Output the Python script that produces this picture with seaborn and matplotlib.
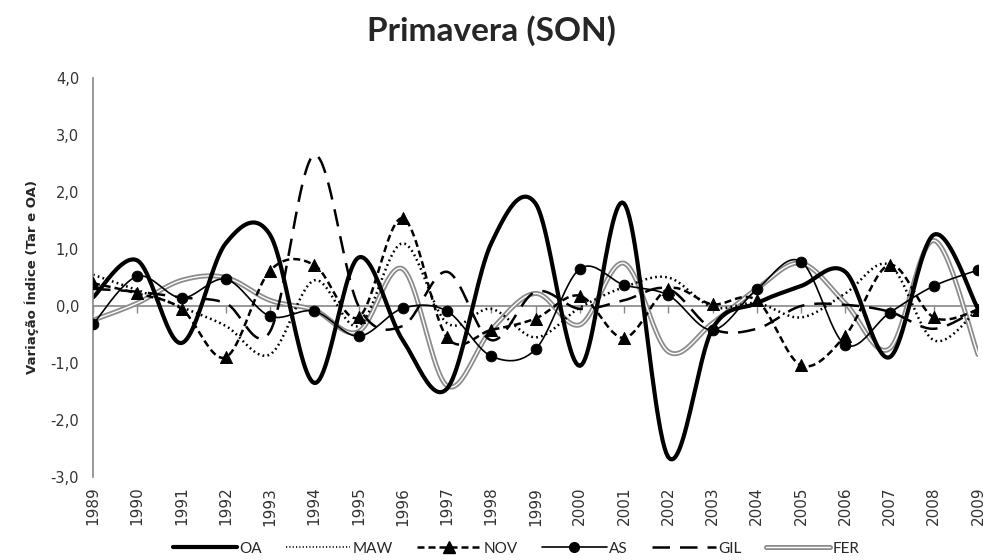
import numpy as np
import pandas as pd
import matplotlib
matplotlib.use("Agg")
import matplotlib.pyplot as plt
import matplotlib.patheffects as pe
from matplotlib.lines import Line2D
import seaborn as sns

# values (anomalies per year)
years = list(range(1989, 2010))
oa = [0.15, 0.8, -0.65, 1.1, 1.25, -1.35, 0.85, -0.6, -1.45, 1.1, 1.8,
      -1.05, 1.8, -2.65, -0.4, 0.05, 0.35, 0.6, -0.9, 1.25, -0.05]
maw = [0.55, 0.28, -0.02, -0.35, -0.85, 0.45, -0.35, 1.1, -0.3, -0.05, -0.55,
       -0.03, 0.33, 0.5, -0.02, 0.05, -0.2, 0.22, 0.72, -0.6, -0.05]
nov = [0.4, 0.22, -0.05, -0.9, 0.62, 0.72, -0.2, 1.54, -0.55, -0.42, -0.22,
       0.18, -0.56, 0.3, 0.03, 0.1, -1.04, -0.52, 0.72, -0.2, -0.07]
as_ = [-0.32, 0.52, 0.14, 0.47, -0.18, -0.09, -0.53, -0.04, -0.09, -0.88, -0.76,
       0.65, 0.37, 0.19, -0.42, 0.29, 0.78, -0.68, -0.12, 0.35, 0.63]
gil = [0.3, 0.25, 0.15, 0.05, -0.45, 2.65, 0.0, -0.35, 0.6, -0.6, 0.25,
       -0.05, 0.1, 0.3, -0.4, -0.4, 0.0, 0.02, -0.1, -0.4, -0.05]
fer = [-0.25, 0.05, 0.45, 0.5, 0.1, -0.07, -0.45, 0.65, -1.4, -0.42, 0.22,
       -0.33, 0.75, -0.8, -0.3, 0.3, 0.75, 0.05, -0.75, 1.15, -0.85]


def smooth(x, y, n=24):
    # Excel style smoothed line: bezier segments with catmull-rom tangents
    x = np.asarray(x, float)
    y = np.asarray(y, float)
    xs, ys = [], []
    k = len(x)
    for i in range(k - 1):
        p0 = np.array([x[i], y[i]])
        p3 = np.array([x[i + 1], y[i + 1]])
        pm = np.array([x[max(i - 1, 0)], y[max(i - 1, 0)]])
        pn = np.array([x[min(i + 2, k - 1)], y[min(i + 2, k - 1)]])
        c1 = p0 + (p3 - pm) / 6
        c2 = p3 - (pn - p0) / 6
        t = np.linspace(0, 1, n, endpoint=(i == k - 2))[:, None]
        pts = ((1 - t) ** 3) * p0 + 3 * ((1 - t) ** 2) * t * c1 + 3 * (1 - t) * t ** 2 * c2 + t ** 3 * p3
        xs.append(pts[:, 0])
        ys.append(pts[:, 1])
    return np.concatenate(xs), np.concatenate(ys)


sns.set_style("white")
plt.rcParams["font.family"] = ["DejaVu Sans"]

fig = plt.figure(figsize=(9.83, 5.6), dpi=100)
ax = fig.add_axes([93 / 983, 1 - 477 / 560, (978 - 93) / 983, (477 - 78) / 560])

fer_fx = [pe.Stroke(linewidth=3.6, foreground="#8c8c8c"), pe.Normal()]

styles = {
    "OA": dict(color="black", lw=3.0, ls="-"),
    "MAW": dict(color="black", lw=1.8, ls=(0, (0.7, 1.3))),
    "NOV": dict(color="black", lw=1.8, ls=(0, (2.8, 1.6))),
    "AS": dict(color="black", lw=1.2, ls="-"),
    "GIL": dict(color="black", lw=1.8, ls=(0, (7, 4))),
    "FER": dict(color="white", lw=1.0, ls="-"),
}
series = {"OA": oa, "MAW": maw, "NOV": nov, "AS": as_, "GIL": gil, "FER": fer}

for name in ["FER", "AS", "MAW", "GIL", "NOV", "OA"]:
    sx, sy = smooth(years, series[name])
    st = styles[name]
    sns.lineplot(x=sx, y=sy, ax=ax, color=st["color"], linewidth=st["lw"],
                 linestyle=st["ls"], sort=False, estimator=None,
                 path_effects=fer_fx if name == "FER" else None)

sns.scatterplot(x=years, y=nov, ax=ax, marker="^", s=75, color="black", edgecolor="black", zorder=5)
sns.scatterplot(x=years, y=as_, ax=ax, marker="o", s=60, color="black", edgecolor="black", zorder=5)

ax.set_xlim(1989, 2009)
ax.set_ylim(-3, 4)
ax.set_yticks(range(-3, 5))
ax.set_yticklabels([f"{v},0" for v in range(-3, 5)], fontsize=10.5, color="#333333")
ax.set_xticks(years)
ax.set_xticklabels([str(y) for y in years], rotation=90, fontsize=11, color="#333333")
ax.tick_params(axis="x", length=0, pad=7)
ax.tick_params(axis="y", length=6, width=1, color="#868686", direction="out", pad=4)
for s in ["top", "right", "bottom"]:
    ax.spines[s].set_visible(False)
ax.spines["left"].set_color("#868686")
ax.spines["left"].set_linewidth(1.2)

# category axis crosses at zero
zero = ax.secondary_xaxis(3 / 7)
zero.set_xticks(years)
zero.set_xticklabels([])
zero.tick_params(axis="x", length=5, width=1, color="#868686", direction="out")
zero.spines["bottom"].set_color("#868686")
zero.spines["bottom"].set_linewidth(1.2)

ax.set_ylabel("Variação Índice (Tar e OA)", fontsize=9.5, fontweight="bold", labelpad=8)
fig.text(0.5, 0.945, "Primavera (SON)", ha="center", va="center", fontsize=24,
         fontweight="bold", family=["Lato", "DejaVu Sans"])

handles = [
    Line2D([], [], color="black", lw=3.0),
    Line2D([], [], color="black", lw=1.2, ls=(0, (0.7, 1.3))),
    Line2D([], [], color="black", lw=1.8, ls=(0, (2.8, 1.6)), marker="^", markersize=8),
    Line2D([], [], color="black", lw=1.2, marker="o", markersize=7),
    Line2D([], [], color="black", lw=1.8, ls=(0, (7, 4))),
    Line2D([], [], color="white", lw=1.0, path_effects=fer_fx),
]
labels = ["OA", "MAW", "NOV", "AS", "GIL", "FER"]
fig.legend(handles, labels, loc="center", bbox_to_anchor=(0.525, 0.02), ncol=6,
           frameon=False, handlelength=4.2, handletextpad=0.15, columnspacing=1.6,
           prop={"family": ["Lato", "DejaVu Sans"], "size": 11})

fig.savefig("out.png", dpi=100)
